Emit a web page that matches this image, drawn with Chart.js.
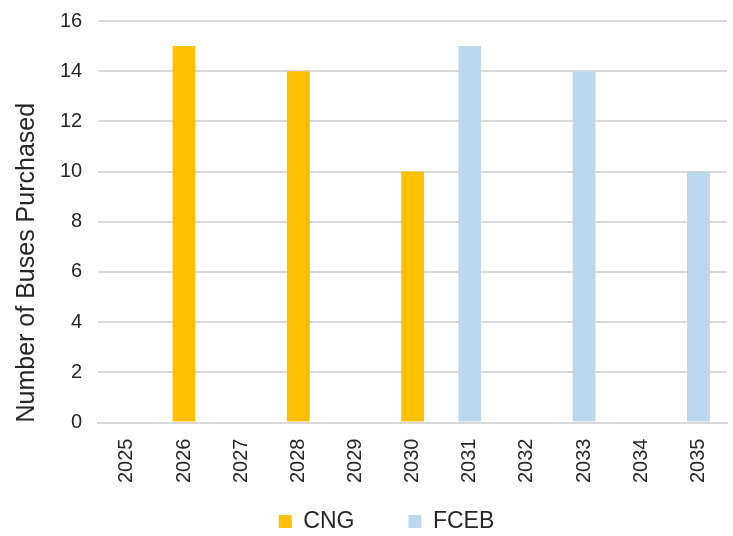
<!DOCTYPE html>
<html>
<head>
<meta charset="utf-8">
<script src="https://cdn.jsdelivr.net/npm/chart.js@4"></script>
<style>
  html, body { margin: 0; padding: 0; background: #fff; }
  #wrap { width: 733px; height: 536px; }
</style>
</head>
<body>
<div id="wrap"><canvas id="busChart"></canvas></div>
<script>
// Bus purchases by year and fuel type
const years = ['2025', '2026', '2027', '2028', '2029', '2030', '2031', '2032', '2033', '2034', '2035'];
const cngBuses = [0, 15, 0, 14, 0, 10, 0, 0, 0, 0, 0];
const fcebBuses = [0, 0, 0, 0, 0, 0, 15, 0, 14, 0, 10];
const yTicks = [0, 2, 4, 6, 8, 10, 12, 14, 16];

const font = 'Liberation Sans, Arial, sans-serif';
const textColor = '#262626';

// the wide gap between legend entries comes from labels.padding, which also
// pushes the entries down; pull the legend box back up and a bit to the right
const legendNudge = {
  id: 'legendNudge',
  afterLayout(chart) {
    const lg = chart.legend;
    lg.top -= 35;
    lg.bottom -= 35;
    lg.left += 19;
    lg.right += 19;
  },
};

new Chart(document.getElementById('busChart'), {
  type: 'bar',
  data: {
    labels: years,
    datasets: [
      {
        label: 'CNG',
        data: cngBuses,
        backgroundColor: '#FFC000',
        barPercentage: 0.4,
        categoryPercentage: 1,
      },
      {
        label: 'FCEB',
        data: fcebBuses,
        backgroundColor: '#BDD7EE',
        barPercentage: 0.4,
        categoryPercentage: 1,
      },
    ],
  },
  plugins: [legendNudge],
  options: {
    responsive: true,
    maintainAspectRatio: false,
    animation: false,
    events: [],
    layout: { padding: { top: 0, right: 6, left: 8, bottom: -42 } },
    plugins: {
      tooltip: { enabled: false },
      legend: {
        position: 'bottom',
        labels: {
          font: { family: font, size: 23 },
          color: textColor,
          boxWidth: 13,
          boxHeight: 13,
          padding: 54,
        },
      },
    },
    scales: {
      x: {
        stacked: true,
        grid: { display: false },
        border: { color: '#d9d9d9', width: 2 },
        ticks: {
          font: { family: font, size: 20 },
          color: textColor,
          minRotation: 90,
          maxRotation: 90,
          padding: 8,
        },
      },
      y: {
        stacked: true,
        min: 0,
        max: 16,
        afterBuildTicks: (axis) => {
          axis.ticks = yTicks.map((v) => ({ value: v }));
        },
        afterFit: (scale) => {
          scale.paddingTop = 21;
        },
        grid: { color: '#d9d9d9', lineWidth: 2, drawTicks: false },
        border: { display: false },
        ticks: {
          font: { family: font, size: 20 },
          color: textColor,
          padding: 16,
        },
        title: {
          display: true,
          text: 'Number of Buses Purchased',
          align: 'start',
          font: { family: font, size: 25 },
          color: textColor,
          padding: { bottom: 2 },
        },
      },
    },
  },
});
</script>
</body>
</html>
